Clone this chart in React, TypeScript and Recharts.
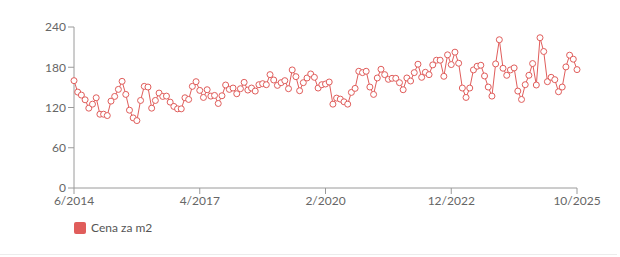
import React from 'react';
import { LineChart, Line, XAxis, YAxis, Legend } from 'recharts';

const START_YEAR = 2014;
const START_MONTH = 6;

const prices: number[] = [
  160, 143, 138.5, 131.5, 119, 125, 134.5, 110, 110, 108,
  129.5, 136.5, 147, 159, 139.5, 116, 104.5, 100.5, 130.5, 151.5,
  150.5, 119, 130.5, 141.5, 136.5, 137, 128, 121.6, 118, 118,
  134.5, 132, 151.5, 158.5, 145.5, 135, 146.5, 137, 138, 126,
  137.5, 153.5, 147, 149, 140.5, 148, 157.5, 146, 149, 144.5,
  154, 155.5, 154, 169, 161, 153, 157, 160, 148, 176,
  166, 145, 157, 164, 170, 165, 149, 154, 155, 158,
  125, 134, 132.5, 128.5, 125, 142.5, 148.5, 174, 172, 174,
  150.5, 139.5, 164, 177, 169, 162, 163.5, 163.5, 157, 146.5,
  164, 159.5, 172, 184.5, 165, 172.5, 169, 183.5, 190.5, 190.5,
  166.5, 198.5, 184, 202.5, 186, 149, 135, 149, 176, 181.5,
  183, 167, 150.5, 137, 185, 221, 178.5, 168, 176, 179,
  144.5, 132, 154, 168, 185.5, 153.5, 224, 203.5, 158.5, 165,
  161.5, 143.5, 150.5, 180.5, 198, 192, 176.5,
];

const xTicks: string[] = ['6/2014', '4/2017', '2/2020', '12/2022', '10/2025'];
const yTicks: number[] = [0, 60, 120, 180, 240];
const seriesName = 'Cena za m2';

const months: string[] = prices.map((_, i) => {
  const m0 = START_MONTH - 1 + i;
  const y = START_YEAR + Math.floor(m0 / 12);
  const m = (m0 % 12) + 1;
  return `${m}/${y}`;
});

const data = months.map((month, i) => ({ month, value: prices[i] }));

const RED = '#e05d5b';
const AXIS = '#9a9a9a';
const TEXT = '#666666';
const FONT = 'Lato, "Noto Sans", sans-serif';

const renderLegend = () => (
  <div style={{ display: 'flex', alignItems: 'center', fontFamily: FONT, fontSize: 12, color: '#555' }}>
    <span
      style={{
        display: 'inline-block',
        width: 12,
        height: 12,
        borderRadius: 2,
        background: RED,
        marginRight: 5,
      }}
    />
    <span>{seriesName}</span>
  </div>
);

export default function App() {
  return (
    <div style={{ position: 'absolute', left: 0, top: 0, width: 620, height: 257, background: '#fff' }}>
      <div style={{ position: 'absolute', left: 0, top: 254, width: 617, height: 1, background: '#ececec' }} />
      <LineChart
        width={620}
        height={257}
        data={data}
        margin={{ top: 27, right: 43, left: 14, bottom: 19 }}
      >
        <XAxis
          dataKey="month"
          ticks={xTicks}
          interval={0}
          stroke={AXIS}
          tick={{ fill: TEXT, fontSize: 12, fontFamily: FONT }}
          tickLine={{ stroke: AXIS }}
          height={30}
        />
        <YAxis
          domain={[0, 240]}
          ticks={yTicks}
          width={60}
          stroke={AXIS}
          tick={{ fill: TEXT, fontSize: 12, fontFamily: FONT }}
          tickLine={{ stroke: AXIS }}
        />
        <Legend
          content={renderLegend}
          verticalAlign="bottom"
          align="left"
          height={20}
          wrapperStyle={{ left: 74, top: 220, width: 200 }}
        />
        <Line
          type="linear"
          dataKey="value"
          name={seriesName}
          stroke={RED}
          strokeWidth={1}
          dot={{ r: 3, fill: '#fff', stroke: RED, strokeWidth: 1 }}
          activeDot={false}
          isAnimationActive={false}
        />
      </LineChart>
    </div>
  );
}
